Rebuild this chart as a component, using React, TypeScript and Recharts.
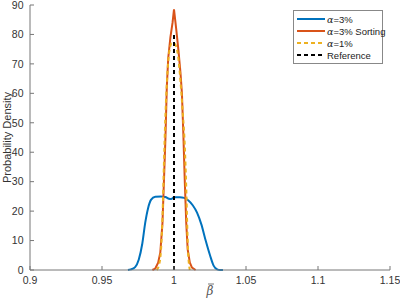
import { LineChart, Line, XAxis, YAxis, Legend } from "recharts"

const X_TICKS = [0.9, 0.95, 1, 1.05, 1.1, 1.15]
const Y_TICKS = [0, 10, 20, 30, 40, 50, 60, 70, 80, 90]
const SERIES_NAMES = ["α=3%", "α=3% Sorting", "α=1%", "Reference"]

// α=3%
const ALPHA3_X = [0.968, 0.97, 0.973, 0.9755, 0.978, 0.98, 0.982, 0.984, 0.987, 0.991, 0.994, 0.9965, 0.998, 1.0, 1.004, 1.007, 1.01, 1.013, 1.016, 1.019, 1.022, 1.025, 1.0275, 1.03, 1.032, 1.034]
const ALPHA3_Y = [0, 0.2, 1, 3.5, 9, 16, 21, 23.8, 24.9, 25, 24.8, 24.2, 24.1, 24.7, 24.7, 24.5, 23.6, 22, 19.5, 15.5, 10, 5, 1.5, 0.2, 0, 0]

// α=3% Sorting
const SORT_X = [0.985, 0.987, 0.989, 0.9905, 0.992, 0.993, 0.994, 0.995, 0.996, 0.9975, 0.999, 1.0, 1.0008, 1.0015, 1.003, 1.0045, 1.0055, 1.0065, 1.0075, 1.0085, 1.0095, 1.011, 1.0125, 1.015]
const SORT_Y = [0, 0.5, 2.5, 6, 16, 30, 44, 62, 72, 79, 84, 88.5, 85, 82, 75, 67, 60, 46, 30, 16, 7, 2.5, 0.8, 0]

// α=1%
const ALPHA1_X = [0.988, 0.9895, 0.991, 0.992, 0.993, 0.994, 0.995, 0.996, 0.997, 0.9985, 1.0, 1.0015, 1.003, 1.0045, 1.006, 1.0075, 1.0085, 1.0092, 1.0098, 1.0105, 1.011]
const ALPHA1_Y = [0, 1.5, 7, 18, 36, 52, 63, 71, 75, 77, 77, 76, 72, 64, 54, 42, 28, 15, 6, 1.5, 0]

// Reference
const REF_X = [1, 1]
const REF_Y = [0, 80]

const pts = (xs: number[], ys: number[]) => xs.map((x, i) => ({ x, y: ys[i] }))

const AXIS = "#777"
const SANS = "'Liberation Sans', Arial, sans-serif"
const TICK = { fontSize: 10.5, fill: "#333", fontFamily: SANS }

function LegendBox({ payload }: any) {
  return (
    <div
      style={{
        width: 88,
        border: "1px solid #888",
        background: "#fff",
        padding: "2px 0",
        fontFamily: SANS,
        fontSize: 9.5,
        color: "#222",
        whiteSpace: "nowrap",
      }}
    >
      {(payload || []).map((e: any) => {
        const name: string = e.value
        const dash = e.payload?.strokeDasharray
        return (
          <div key={name} style={{ display: "flex", alignItems: "center", height: 12 }}>
            <svg width={31} height={8} style={{ marginLeft: 2, flex: "none" }}>
              <line x1={1} x2={29} y1={4} y2={4} stroke={e.color} strokeWidth={2} strokeDasharray={dash} />
            </svg>
            <span>
              {name.startsWith("α") ? (
                <>
                  <i style={{ fontFamily: "'DejaVu Serif', serif" }}>α</i>
                  {name.slice(1)}
                </>
              ) : (
                name
              )}
            </span>
          </div>
        )
      })}
    </div>
  )
}

function BetaBar({ viewBox }: any) {
  const cx = viewBox.x + viewBox.width / 2
  const y = viewBox.y + viewBox.height - 4
  return (
    <g>
      <text x={cx} y={y} textAnchor="middle" fontSize={12} fill="#555" fontStyle="italic" fontFamily="'DejaVu Serif', serif">
        β
      </text>
      <line x1={cx - 2} x2={cx + 4} y1={y - 11} y2={y - 11} stroke="#555" strokeWidth={0.8} />
    </g>
  )
}

export default function App() {
  return (
    <div style={{ width: 400, height: 299, background: "#fff" }}>
      <style>{"body{margin:0}"}</style>
      <LineChart width={400} height={299} margin={{ top: 5, right: 10, bottom: 0, left: 0 }}>
        <XAxis
          xAxisId={0}
          dataKey="x"
          type="number"
          domain={[0.9, 1.15]}
          ticks={X_TICKS}
          height={29}
          stroke={AXIS}
          tickSize={-4}
          tickMargin={11}
          tick={TICK}
          label={<BetaBar />}
        />
        <XAxis
          xAxisId="top"
          orientation="top"
          type="number"
          domain={[0.9, 1.15]}
          ticks={X_TICKS}
          height={0}
          stroke={AXIS}
          tickSize={-4}
          tick={false}
        />
        <YAxis
          yAxisId={0}
          type="number"
          domain={[0, 90]}
          ticks={Y_TICKS}
          width={30}
          stroke={AXIS}
          tickSize={-4}
          tickMargin={10.5}
          tick={TICK}
          label={{
            value: "Probability Density",
            angle: -90,
            position: "insideLeft",
            offset: 7,
            textAnchor: "middle",
            style: { fontSize: 11, fill: "#333", fontFamily: SANS },
          }}
        />
        <YAxis
          yAxisId="right"
          orientation="right"
          type="number"
          domain={[0, 90]}
          ticks={Y_TICKS}
          width={0}
          stroke={AXIS}
          tickSize={-4}
          tick={false}
        />
        <Legend
          layout="vertical"
          align="center"
          verticalAlign="middle"
          itemSorter={(e: any) => SERIES_NAMES.indexOf(e.value)}
          content={<LegendBox />}
          wrapperStyle={{ position: "absolute", top: 10, left: 293, width: 90 }}
        />
        <Line data={pts(ALPHA3_X, ALPHA3_Y)} dataKey="y" name={SERIES_NAMES[0]} type="monotone" stroke="#0072BD" strokeWidth={2} dot={false} isAnimationActive={false} />
        <Line data={pts(SORT_X, SORT_Y)} dataKey="y" name={SERIES_NAMES[1]} type="linear" stroke="#D95319" strokeWidth={2} dot={false} isAnimationActive={false} />
        <Line data={pts(ALPHA1_X, ALPHA1_Y)} dataKey="y" name={SERIES_NAMES[2]} type="monotone" stroke="#EDB120" strokeWidth={2} strokeDasharray="4 3" dot={false} isAnimationActive={false} />
        <Line data={pts(REF_X, REF_Y)} dataKey="y" name={SERIES_NAMES[3]} type="linear" stroke="#000" strokeWidth={2} strokeDasharray="4 3" dot={false} isAnimationActive={false} />
      </LineChart>
    </div>
  )
}
